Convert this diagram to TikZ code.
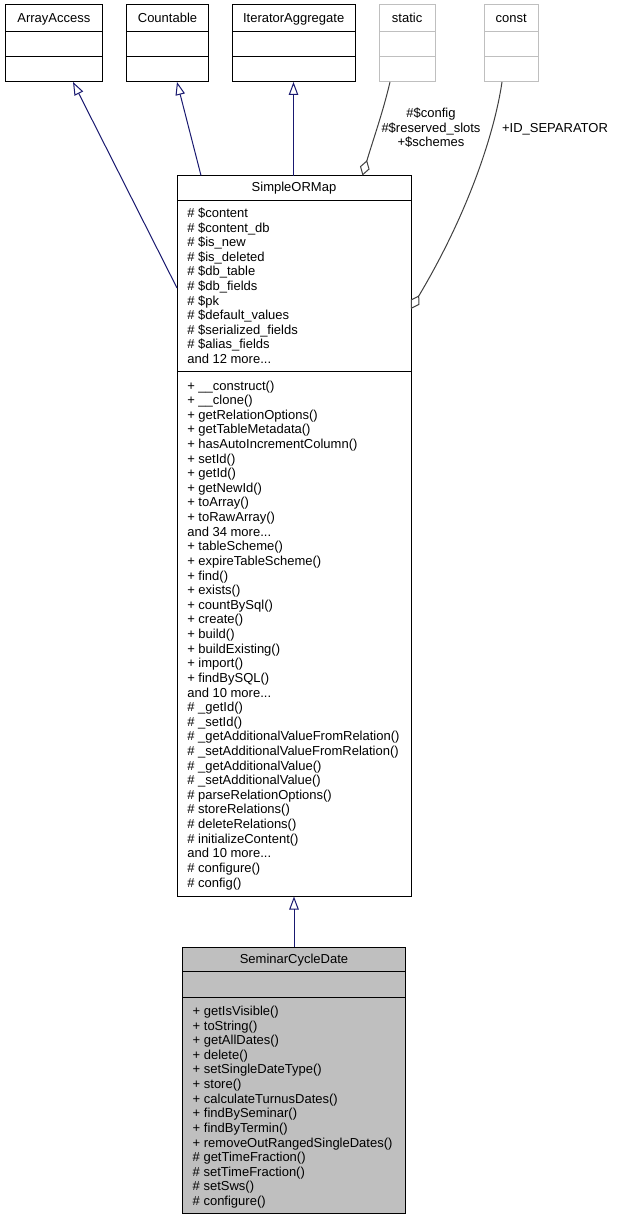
\documentclass[tikz,border=0pt]{standalone}
\usepackage{fontspec}
\setmainfont{Liberation Sans}
\usetikzlibrary{arrows.meta,calc}
\definecolor{edgeblue}{HTML}{191970}
\definecolor{aggrgray}{HTML}{404040}
\definecolor{lightborder}{HTML}{BFBFBF}
\definecolor{selfill}{HTML}{BFBFBF}
\newcommand\mydots{...}
\newcommand\umlbox[9]{%
  \node[draw=#8, fill=#9, line width=1pt, inner sep=0pt, outer sep=0pt, anchor=north west,
        minimum width={(#4-#2)*1pt}, minimum height={(#5-#3)*1pt}] (#1) at (#2,#3) {};
  \draw[draw=#8, line width=1pt] (#2,#6) -- (#4,#6);
  \draw[draw=#8, line width=1pt] (#2,#7) -- (#4,#7);
}
\begin{document}
\begin{tikzpicture}[x=1pt,y=-1pt,
  txt/.style={font=\fontsize{13}{14.6}\selectfont, inner sep=0pt, outer sep=0pt, text=black},
  member/.style={txt, anchor=base west},
  boxtitle/.style={txt, anchor=base},
  inh/.style={draw=edgeblue, line width=1pt, -{Triangle[open, length=13pt, width=9.5pt]}},
  agg/.style={draw=aggrgray, line width=1pt, -{Diamond[open, length=16pt, width=10pt]}}]
\useasboundingbox (0,0) rectangle (618,1220);
\fill[white] (0,0) rectangle (618,1220);

% top row
\umlbox{aa}{5}{5}{102.7}{82}{31.5}{56.7}{black}{white}
\umlbox{ct}{126.7}{5}{208.3}{82}{31.5}{56.7}{black}{white}
\umlbox{ia}{232.3}{5}{355}{82}{31.5}{56.7}{black}{white}
\umlbox{st}{379.3}{5}{435}{82}{31.5}{56.7}{lightborder}{white}
\umlbox{cs}{484}{5}{538.3}{82}{31.5}{56.7}{lightborder}{white}
\node[boxtitle] (aa-t) at ($(aa.north)+(0,17.5)$) {ArrayAccess};
\node[boxtitle] (ct-t) at ($(ct.north)+(0,17.5)$) {Countable};
\node[boxtitle] (ia-t) at ($(ia.north)+(0,17.5)$) {IteratorAggregate};
\node[boxtitle] (st-t) at ($(st.north)+(0,17.5)$) {static};
\node[boxtitle] (cs-t) at ($(cs.north)+(0,17.5)$) {const};

% SimpleORMap
\umlbox{smap}{177}{175.5}{411}{896.5}{200.5}{371.5}{black}{white}
\node[boxtitle] (smap-t) at ($(smap.north)+(0,16)$) {SimpleORMap};
\foreach \t [count=\i from 0] in {\# \$content, \# \$content\_db, \# \$is\_new, \# \$is\_deleted, \# \$db\_table, \# \$db\_fields, \# \$pk, \# \$default\_values, \# \$serialized\_fields, \# \$alias\_fields, and 12 more\mydots}
  \node[member] (sma\i) at (187.3, {217.5+14.6*\i}) {\t};
\foreach \t [count=\i from 0] in {+ \_\_construct(), + \_\_clone(), + getRelationOptions(), + getTableMetadata(), + hasAutoIncrementColumn(), + setId(), + getId(), + getNewId(), + toArray(), + toRawArray(), and 34 more\mydots, + tableScheme(), + expireTableScheme(), + find(), + exists(), + countBySql(), + create(), + build(), + buildExisting(), + import(), + findBySQL(), and 10 more\mydots, \# \_getId(), \# \_setId(), \# \_getAdditionalValueFromRelation(), \# \_setAdditionalValueFromRelation(), \# \_getAdditionalValue(), \# \_setAdditionalValue(), \# parseRelationOptions(), \# storeRelations(), \# deleteRelations(), \# initializeContent(), and 10 more\mydots, \# configure(), \# config()}
  \node[member] (smm\i) at (187.3, {390+14.62*\i}) {\t};

% SeminarCycleDate
\umlbox{scd}{182.7}{947.3}{405.3}{1213.3}{971.7}{997.7}{black}{selfill}
\node[boxtitle] (scd-t) at ($(scd.north)+(0,16)$) {SeminarCycleDate};
\foreach \t [count=\i from 0] in {+ getIsVisible(), + toString(), + getAllDates(), + delete(), + setSingleDateType(), + store(), + calculateTurnusDates(), + findBySeminar(), + findByTermin(), + removeOutRangedSingleDates(), \# getTimeFraction(), \# setTimeFraction(), \# setSws(), \# configure()}
  \node[member] (scdm\i) at (192.7, {1015.5+14.62*\i}) {\t};

% inheritance edges
\draw[inh] (smap.west |- 0,288) -- (aa.south -| 73,0);
\draw[inh] (smap.north -| 201,0) -- (ct.south -| 177,0);
\draw[inh] (smap.north -| 293.5,0) -- (ia.south -| 293.5,0);
\draw[inh] (scd.north -| 294,0) -- (smap.south -| 294,0);

% aggregation edges
\draw[agg] (st.south -| 390,0) .. controls (383,112) and (373,140) .. (smap.north -| 362.5,0);
\draw[agg] (cs.south -| 502,0) .. controls (495,130) and (470,210) .. (smap.east |- 0,309);

% edge labels
\node[boxtitle] (l1a) at (431,117.5) {\#\$config};
\node[boxtitle] (l1b) at (431,132.2) {\#\$reserved\_slots};
\node[boxtitle] (l1c) at (431,146.8) {+\$schemes};
\node[boxtitle] (l2) at (555,132.2) {+ID\_SEPARATOR};
\end{tikzpicture}
\end{document}
